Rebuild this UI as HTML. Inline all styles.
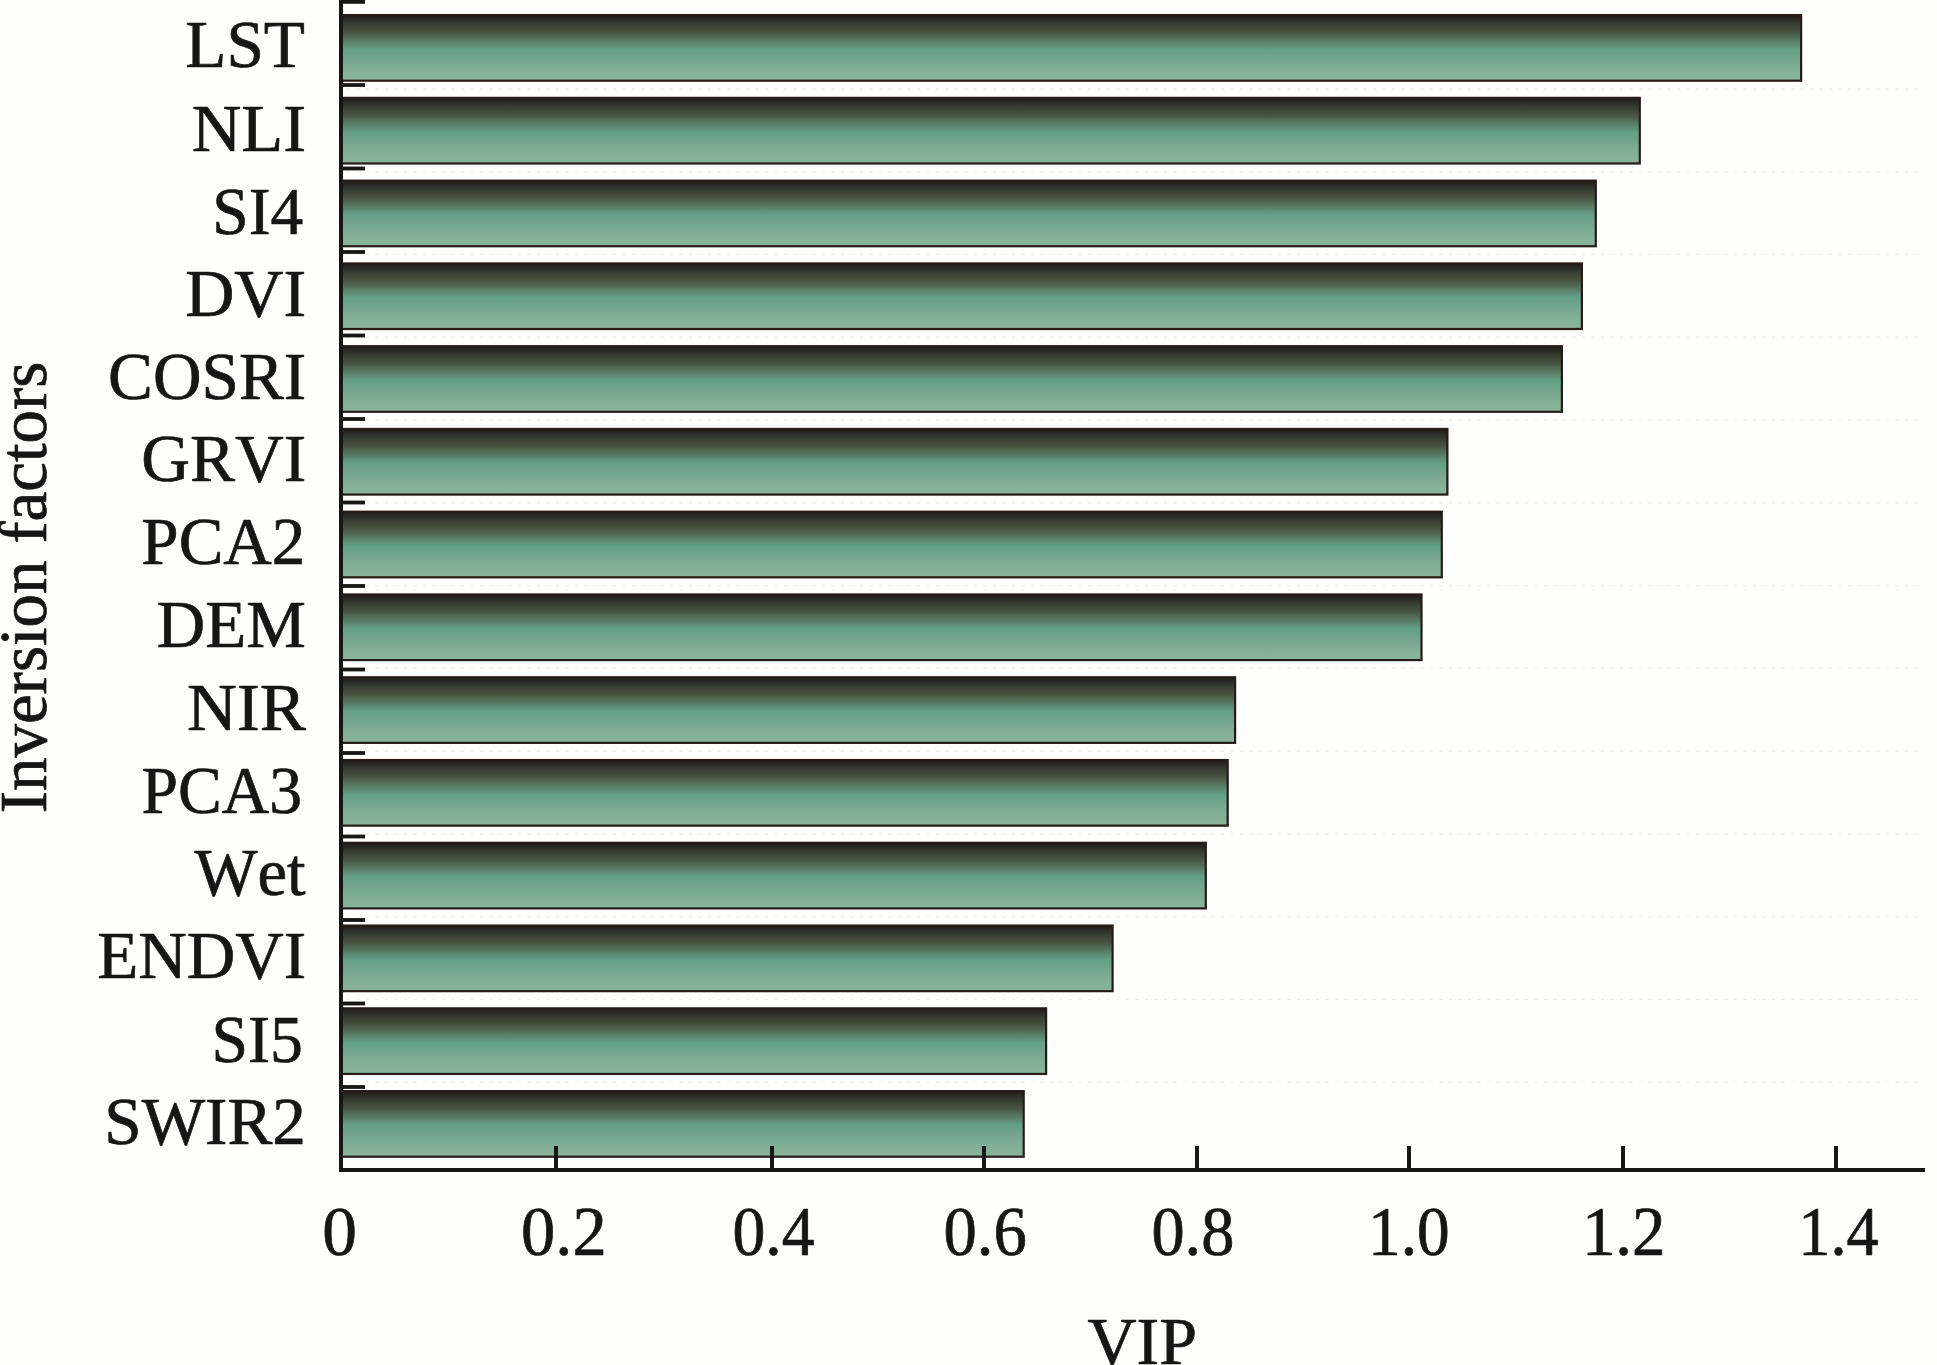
<!DOCTYPE html>
<html lang="en"><head><meta charset="utf-8"><title>VIP of inversion factors</title>
<style>
html,body{margin:0;padding:0;background:#fefefc;}
body{width:1937px;height:1365px;overflow:hidden;}
svg{display:block;}
text{font-kerning:none;font-family:"Liberation Serif","Times New Roman",Times,serif;font-size:68px;fill:#161616;stroke:#161616;stroke-width:0.7px;stroke-linejoin:round;}
</style></head><body>
<svg width="1937" height="1365" viewBox="0 0 1937 1365">
<defs>
<linearGradient id="g" x1="0" y1="0" x2="0" y2="1">
<stop offset="0" stop-color="#1f1b18"/>
<stop offset="0.06" stop-color="#292a23"/>
<stop offset="0.14" stop-color="#363d31"/>
<stop offset="0.26" stop-color="#485442"/>
<stop offset="0.36" stop-color="#55705b"/>
<stop offset="0.45" stop-color="#5e8c74"/>
<stop offset="0.52" stop-color="#63a085"/>
<stop offset="0.65" stop-color="#72a58c"/>
<stop offset="0.80" stop-color="#80ae95"/>
<stop offset="1" stop-color="#8ab59c"/>
</linearGradient>
</defs>
<rect x="0" y="0" width="1937" height="1365" fill="#fefefc"/>

<g stroke="#f1ecea" stroke-width="0.9" stroke-dasharray="3 6.5" fill="none">
<path d="M347 89.0H1918"/>
<path d="M347 171.8H1918"/>
<path d="M347 254.5H1918"/>
<path d="M347 337.3H1918"/>
<path d="M347 420.1H1918"/>
<path d="M347 502.8H1918"/>
<path d="M347 585.6H1918"/>
<path d="M347 668.4H1918"/>
<path d="M347 751.2H1918"/>
<path d="M347 833.9H1918"/>
<path d="M347 916.7H1918"/>
<path d="M347 999.5H1918"/>
<path d="M347 1082.2H1918"/>
</g>
<g fill="url(#g)" stroke="#261c17" stroke-width="2.2">
<rect x="341" y="15.10" width="1460.1" height="65.6"/>
<rect x="341" y="97.87" width="1298.8" height="65.6"/>
<rect x="341" y="180.64" width="1254.8" height="65.6"/>
<rect x="341" y="263.41" width="1240.9" height="65.6"/>
<rect x="341" y="346.18" width="1220.9" height="65.6"/>
<rect x="341" y="428.95" width="1106.4" height="65.6"/>
<rect x="341" y="511.72" width="1100.8" height="65.6"/>
<rect x="341" y="594.49" width="1080.5" height="65.6"/>
<rect x="341" y="677.26" width="894.1" height="65.6"/>
<rect x="341" y="760.03" width="886.7" height="65.6"/>
<rect x="341" y="842.80" width="864.8" height="65.6"/>
<rect x="341" y="925.57" width="771.6" height="65.6"/>
<rect x="341" y="1008.34" width="705.1" height="65.6"/>
<rect x="341" y="1091.11" width="682.7" height="65.6"/>
</g>
<g fill="#161616">
<rect x="339" y="0" width="4" height="1172"/>
<rect x="339" y="1168" width="1586" height="4"/>
<rect x="341" y="0.00" width="24" height="3.80"/>
<rect x="341" y="83.10" width="24" height="3.80"/>
<rect x="341" y="166.60" width="24" height="3.80"/>
<rect x="341" y="250.10" width="24" height="3.80"/>
<rect x="341" y="333.60" width="24" height="3.80"/>
<rect x="341" y="417.10" width="24" height="3.80"/>
<rect x="341" y="500.60" width="24" height="3.80"/>
<rect x="341" y="584.10" width="24" height="3.80"/>
<rect x="341" y="667.60" width="24" height="3.80"/>
<rect x="341" y="751.10" width="24" height="3.80"/>
<rect x="341" y="834.60" width="24" height="3.80"/>
<rect x="341" y="918.10" width="24" height="3.80"/>
<rect x="341" y="1001.60" width="24" height="3.80"/>
<rect x="341" y="1085.10" width="24" height="3.80"/>
<rect x="554" y="1146" width="4" height="24"/>
<rect x="770" y="1146" width="4" height="24"/>
<rect x="982" y="1146" width="4" height="24"/>
<rect x="1195" y="1146" width="4" height="24"/>
<rect x="1407" y="1146" width="4" height="24"/>
<rect x="1621" y="1146" width="4" height="24"/>
<rect x="1834" y="1146" width="4" height="24"/>
</g>
<text transform="translate(185.25,67.20) scale(0.9904,1.0000)">LST</text>
<text transform="translate(191.77,150.50) scale(1.0101,1.0000)">NLI</text>
<text transform="translate(212.29,233.50) scale(0.9618,1.0000)">SI4</text>
<text transform="translate(185.23,316.30) scale(1.0005,1.0000)">DVI</text>
<text transform="translate(108.12,398.70) scale(0.9893,1.0000)">COSRI</text>
<text transform="translate(141.34,481.40) scale(0.9922,1.0000)">GRVI</text>
<text transform="translate(141.36,564.00) scale(0.9863,1.0000)">PCA2</text>
<text transform="translate(156.83,646.80) scale(0.9856,1.0000)">DEM</text>
<text transform="translate(186.93,730.10) scale(1.0163,1.0000)">NIR</text>
<text transform="translate(141.44,812.90) scale(0.9658,1.0000)">PCA3</text>
<text transform="translate(194.53,895.20) scale(0.9800,1.0000)">Wet</text>
<text transform="translate(97.26,978.10) scale(0.9876,1.0000)">ENDVI</text>
<text transform="translate(211.57,1061.50) scale(0.9662,1.0000)">SI5</text>
<text transform="translate(104.33,1144.00) scale(0.9881,1.0000)">SWIR2</text>
<text transform="translate(322.35,1254.80) scale(1.0205,1.0250)">0</text>
<text transform="translate(521.12,1254.80) scale(1.0073,1.0250)">0.2</text>
<text transform="translate(732.38,1254.80) scale(0.9663,1.0250)">0.4</text>
<text transform="translate(943.52,1254.80) scale(0.9801,1.0250)">0.6</text>
<text transform="translate(1151.41,1254.80) scale(0.9756,1.0250)">0.8</text>
<text transform="translate(1368.11,1254.80) scale(0.9604,1.0250)">1.0</text>
<text transform="translate(1581.93,1254.80) scale(0.9833,1.0250)">1.2</text>
<text transform="translate(1798.33,1254.80) scale(0.9439,1.0250)">1.4</text>
<text transform="translate(1087.38,1364.00) scale(1.0002,1.0000)">VIP</text>
<text transform="translate(46.24,813.35) rotate(-90) scale(0.9844,1.0000)">Inversion factors</text>
</svg></body></html>
